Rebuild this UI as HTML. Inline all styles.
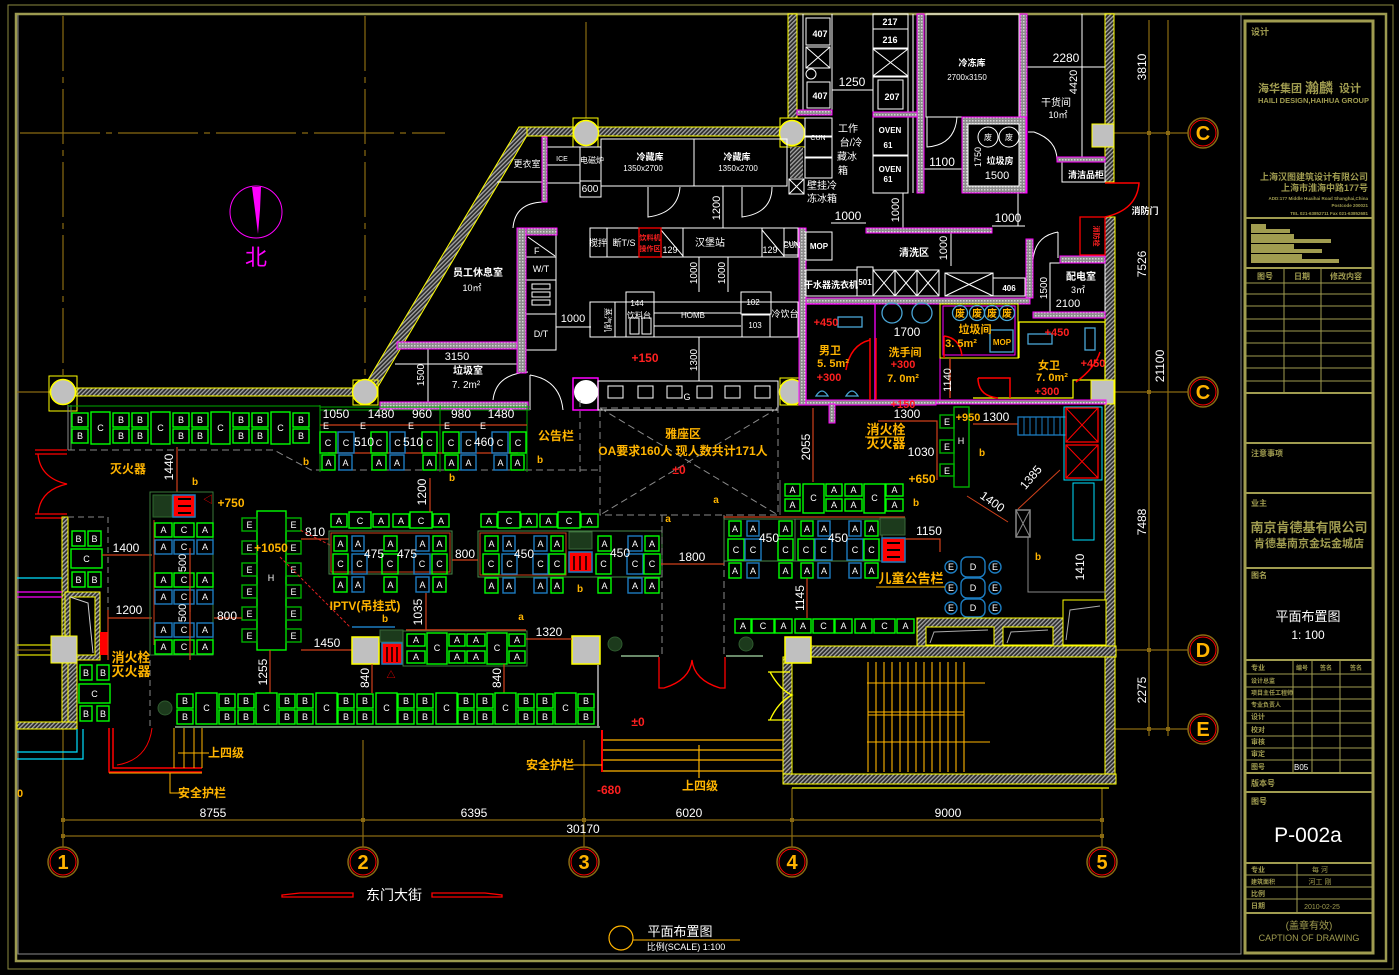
<!DOCTYPE html>
<html><head><meta charset="utf-8"><style>
html,body{margin:0;padding:0;background:#000;}
svg{display:block}
.t{font-family:"Liberation Sans","Noto Sans CJK SC",sans-serif}
.L{fill:#fff;font-size:9px;text-anchor:middle;font-family:"Liberation Sans",sans-serif}
.g{fill:none;stroke:#00ff00;stroke-width:1.4}
.b{fill:none;stroke:#1c7cc0;stroke-width:1.4}
.dg{fill:none;stroke:#00b000;stroke-width:1.2}
.w{fill:none;stroke:#fff;stroke-width:1}
.ol{fill:none;stroke:#8a6a12;stroke-width:1.2}
.rd{fill:none;stroke:#d0401a;stroke-width:1.2}
.wh{fill:#fff;font-family:"Liberation Sans","Noto Sans CJK SC",sans-serif;text-anchor:middle}
.or{fill:#ffb400;font-family:"Liberation Sans","Noto Sans CJK SC",sans-serif;text-anchor:middle;font-weight:bold}
.re{fill:#ff2020;font-family:"Liberation Sans","Noto Sans CJK SC",sans-serif;text-anchor:middle;font-weight:bold}
.tb{fill:#a09c50;font-family:"Liberation Sans","Noto Sans CJK SC",sans-serif}
.yw{fill:url(#h);stroke:#ffff00;stroke-width:1}
.mw{fill:url(#hm);stroke:#ff00ff;stroke-width:1}
</style></head><body>
<svg width="1399" height="975" viewBox="0 0 1399 975" xmlns="http://www.w3.org/2000/svg">
<defs>
<pattern id="h" width="3" height="3" patternUnits="userSpaceOnUse" patternTransform="rotate(45)"><rect width="3" height="3" fill="#2a2a2a"/><rect width="1.3" height="3" fill="#a8a8a8"/></pattern>
<pattern id="hm" width="3" height="3" patternUnits="userSpaceOnUse"><rect width="3" height="3" fill="#8c8c8c"/><rect width="1.5" height="1.5" fill="#d4d4d4"/></pattern>
</defs>
<rect width="1399" height="975" fill="#000"/>

<!-- FRAME -->
<rect x="8" y="5" width="1385" height="964" fill="none" stroke="#8c8a40" stroke-width="1"/>
<rect x="16" y="14" width="1370" height="947" fill="none" stroke="#9c9a50" stroke-width="2.5"/>
<polyline points="18,15 18,954 1241,954 1241,15" fill="none" stroke="#8a8a8a" stroke-width="1"/>

<!-- AXIS LINES -->
<g class="ol">
<line x1="63" y1="16" x2="63" y2="378" stroke-dasharray="55,6,6,6"/>
<line x1="365" y1="16" x2="365" y2="380" stroke-dasharray="55,6,6,6"/>
<line x1="20" y1="133" x2="445" y2="133" stroke-dasharray="80,6,6,6"/>
<line x1="586" y1="22" x2="586" y2="118"/>
<line x1="17" y1="392" x2="77" y2="392"/>
<line x1="63" y1="728" x2="63" y2="847"/>
<line x1="363" y1="740" x2="363" y2="847"/>
<line x1="584" y1="740" x2="584" y2="847"/>
<line x1="792" y1="788" x2="792" y2="847"/>
<line x1="1102" y1="788" x2="1102" y2="847"/>
<line x1="63" y1="820" x2="1102" y2="820"/>
<line x1="63" y1="836" x2="1102" y2="836"/>
<line x1="1149" y1="20" x2="1149" y2="736"/>
<line x1="1168" y1="20" x2="1168" y2="736"/>
<line x1="1113" y1="133" x2="1188" y2="133"/>
<line x1="1114" y1="392" x2="1188" y2="392"/>
<line x1="1110" y1="650" x2="1188" y2="650"/>
<line x1="1108" y1="729" x2="1188" y2="729"/>
</g>
<g fill="#8a6a12">
<rect x="61" y="818" width="4" height="4"/><rect x="361" y="818" width="4" height="4"/><rect x="582" y="818" width="4" height="4"/><rect x="790" y="818" width="4" height="4"/><rect x="1100" y="818" width="4" height="4"/>
<rect x="61" y="834" width="4" height="4"/><rect x="1100" y="834" width="4" height="4"/>
<rect x="1147" y="131" width="4" height="4"/><rect x="1147" y="390" width="4" height="4"/><rect x="1147" y="648" width="4" height="4"/><rect x="1147" y="727" width="4" height="4"/><rect x="1166" y="727" width="4" height="4"/><rect x="1166" y="131" width="4" height="4"/>
</g>
<!-- axis bubbles -->
<g>
<g transform="translate(63,862)"><circle r="15" fill="none" stroke="#8a6a12" stroke-width="1.5"/><circle r="13" fill="none" stroke="#f00"/><text y="7" class="or" font-size="20">1</text></g>
<g transform="translate(363,862)"><circle r="15" fill="none" stroke="#8a6a12" stroke-width="1.5"/><circle r="13" fill="none" stroke="#f00"/><text y="7" class="or" font-size="20">2</text></g>
<g transform="translate(584,862)"><circle r="15" fill="none" stroke="#8a6a12" stroke-width="1.5"/><circle r="13" fill="none" stroke="#f00"/><text y="7" class="or" font-size="20">3</text></g>
<g transform="translate(792,862)"><circle r="15" fill="none" stroke="#8a6a12" stroke-width="1.5"/><circle r="13" fill="none" stroke="#f00"/><text y="7" class="or" font-size="20">4</text></g>
<g transform="translate(1102,862)"><circle r="15" fill="none" stroke="#8a6a12" stroke-width="1.5"/><circle r="13" fill="none" stroke="#f00"/><text y="7" class="or" font-size="20">5</text></g>
<g transform="translate(1203,133)"><circle r="15" fill="none" stroke="#8a6a12" stroke-width="1.5"/><circle r="13" fill="none" stroke="#f00"/><text y="7" class="or" font-size="20">C</text></g>
<g transform="translate(1203,392)"><circle r="15" fill="none" stroke="#8a6a12" stroke-width="1.5"/><circle r="13" fill="none" stroke="#f00"/><text y="7" class="or" font-size="20">C</text></g>
<g transform="translate(1203,650)"><circle r="15" fill="none" stroke="#8a6a12" stroke-width="1.5"/><circle r="13" fill="none" stroke="#f00"/><text y="7" class="or" font-size="20">D</text></g>
<g transform="translate(1203,729)"><circle r="15" fill="none" stroke="#8a6a12" stroke-width="1.5"/><circle r="13" fill="none" stroke="#f00"/><text y="7" class="or" font-size="20">E</text></g>
</g>
<!-- dimension text -->
<g class="wh" font-size="12">
<text x="213" y="817">8755</text><text x="474" y="817">6395</text><text x="689" y="817">6020</text><text x="948" y="817">9000</text><text x="583" y="833">30170</text>
<text transform="translate(1146,67) rotate(-90)">3810</text>
<text transform="translate(1146,264) rotate(-90)">7526</text>
<text transform="translate(1146,522) rotate(-90)">7488</text>
<text transform="translate(1146,690) rotate(-90)">2275</text>
<text transform="translate(1164,366) rotate(-90)">21100</text>
</g>
<text x="20" y="797" class="or" font-size="11" font-weight="normal">0</text>

<!-- NORTH -->
<circle cx="256" cy="212" r="26" fill="none" stroke="#ff00ff" stroke-width="1"/>
<polygon points="252,187 261,187 260,210 258,234 255,210" fill="#ff00ff"/>
<text x="256" y="265" font-size="22" fill="#ff00ff" class="t" text-anchor="middle">北</text>

<!-- MAIN WALLS -->
<rect class="yw" x="75" y="388" width="280" height="8"/>
<polygon class="yw" points="519,127 532,127 376,390 362,390"/>
<rect class="yw" x="527" y="127" width="262" height="9"/>
<rect class="yw" x="788" y="14" width="9" height="104"/>
<rect fill="#ffff00" x="49" y="376" width="28" height="35" fill-opacity="0" stroke="#ffff00"/>
<circle cx="63" cy="392" r="12.5" fill="#c0c0c0" stroke="#ffff00" stroke-width="1.5"/>
<rect x="353" y="380" width="25" height="25" fill="none" stroke="#ffff00"/>
<circle cx="365" cy="392" r="12.5" fill="#c0c0c0" stroke="#ffff00" stroke-width="1.5"/>
<rect x="573" y="118" width="25" height="29" fill="none" stroke="#ffff00"/>
<circle cx="586" cy="133" r="12.5" fill="#c0c0c0" stroke="#ffff00" stroke-width="1.5"/>
<rect x="780" y="118" width="25" height="29" fill="none" stroke="#ffff00"/>
<circle cx="792" cy="133" r="12.5" fill="#c0c0c0" stroke="#ffff00" stroke-width="1.5"/>
<rect x="790" y="147" width="13" height="31" fill="url(#h)"/>
<rect x="573" y="378" width="25" height="32" fill="none" stroke="#ff00ff" stroke-width="1.5"/>
<circle cx="586" cy="392" r="12" fill="#fff"/>
<rect x="780" y="378" width="25" height="27" fill="none" stroke="#ffff00"/>
<circle cx="792" cy="392" r="12.5" fill="#c0c0c0" stroke="#ffff00" stroke-width="1.5"/>
<!-- right wall -->
<rect class="yw" x="1105" y="14" width="9" height="168"/>
<rect class="yw" x="1105" y="217" width="10" height="567"/>
<rect x="1092" y="124" width="22" height="23" fill="#c0c0c0" stroke="#ffff00"/>
<rect x="1091" y="380" width="23" height="24" fill="#c0c0c0" stroke="#ffff00"/>

<!-- CENTER KITCHEN -->
<g class="w">
<rect x="601" y="139" width="186" height="47"/><line x1="694" y1="139" x2="694" y2="186"/>
<rect x="546" y="147" width="34" height="36"/><line x1="546" y1="165" x2="580" y2="165"/>
<rect x="580" y="147" width="21" height="34"/><rect x="580" y="181" width="21" height="16"/>
<line x1="497" y1="182" x2="542" y2="182"/>
<path d="M648,187 L648,217 Q678,213 680,187"/><path d="M742,187 L742,217 Q772,213 772,187"/>
<path d="M513,228 Q515,203 543,202"/>
<line x1="723" y1="186" x2="723" y2="228"/>
<rect x="590" y="228" width="208" height="29"/>
<line x1="607" y1="228" x2="607" y2="257"/><line x1="661" y1="228" x2="661" y2="257"/><line x1="683" y1="228" x2="683" y2="257"/><line x1="762" y1="228" x2="762" y2="257"/><line x1="784" y1="228" x2="784" y2="257"/>
<line x1="661" y1="230" x2="683" y2="256"/><line x1="762" y1="230" x2="784" y2="256"/>
<rect x="526" y="235" width="30" height="22"/><line x1="528" y1="237" x2="555" y2="256"/>
<rect x="526" y="257" width="30" height="23"/><rect x="526" y="280" width="30" height="34"/>
<rect x="532" y="284" width="18" height="5"/><rect x="532" y="292" width="18" height="5"/><rect x="532" y="300" width="18" height="5"/>
<rect x="526" y="314" width="30" height="36"/>
<line x1="556" y1="327" x2="591" y2="327"/>
<line x1="699" y1="257" x2="699" y2="292"/><line x1="728" y1="257" x2="728" y2="292"/>
<rect x="590" y="302" width="208" height="35"/>
<rect x="626" y="292" width="28" height="45"/>
<line x1="615" y1="302" x2="615" y2="337"/><line x1="654" y1="313" x2="741" y2="313"/><line x1="654" y1="326" x2="741" y2="326"/>
<rect x="741" y="292" width="30" height="22"/><rect x="742" y="315" width="28" height="22"/>
<rect x="630" y="318" width="9" height="16"/><rect x="642" y="318" width="9" height="16"/>
<line x1="699" y1="337" x2="699" y2="381"/>
<line x1="395" y1="364" x2="517" y2="364"/><line x1="428" y1="349" x2="428" y2="402"/>
<path d="M493,400 Q496,374 528,372"/><path d="M530,375 L530,410 M530,375 Q560,380 563,410"/>
<rect x="598" y="381" width="180" height="29"/>
<rect x="608" y="386" width="15" height="12"/><rect x="638" y="386" width="15" height="12"/><rect x="667" y="386" width="15" height="12"/><rect x="697" y="386" width="15" height="12"/><rect x="725" y="386" width="15" height="12"/><rect x="755" y="386" width="15" height="12"/>
</g>
<rect x="639" y="228" width="22" height="29" fill="none" stroke="#f00" stroke-width="1.3"/>
<text x="650" y="240" font-size="7" class="re">饮料机</text><text x="650" y="251" font-size="7" class="re">操作区</text>
<rect class="mw" x="542" y="137" width="5" height="65"/>
<rect class="mw" x="517" y="228" width="40" height="7"/>
<rect class="mw" x="517" y="228" width="9" height="145"/>
<rect class="mw" x="397" y="342" width="120" height="7"/>
<rect class="mw" x="380" y="402" width="148" height="7"/>
<rect class="mw" x="799" y="228" width="7" height="177"/>
<g class="wh" font-size="9">
<text x="527" y="167">更衣室</text><text x="562" y="161" font-size="7">ICE</text><text x="592" y="163" font-size="8">电磁炉</text><text x="590" y="192" font-size="10">600</text>
<text x="650" y="160" font-size="9" font-weight="bold">冷藏库</text><text x="643" y="171" font-size="8">1350x2700</text>
<text x="737" y="160" font-size="9" font-weight="bold">冷藏库</text><text x="738" y="171" font-size="8">1350x2700</text>
<text transform="translate(720,208) rotate(-90)" font-size="11">1200</text>
<text x="598" y="246" font-size="9">搅拌</text><text x="624" y="246" font-size="9">断T/S</text><text x="670" y="253" font-size="9">129</text><text x="710" y="246" font-size="10">汉堡站</text><text x="770" y="253" font-size="9">129</text><text x="792" y="248" font-size="8">CUN</text>
<text x="534" y="254" font-size="9" text-anchor="start">F</text><text x="541" y="272" font-size="9">W/T</text><text x="541" y="337" font-size="9">D/T</text>
<text x="573" y="322" font-size="11">1000</text>
<text transform="translate(697,273) rotate(-90)" font-size="10">1000</text><text transform="translate(725,273) rotate(-90)" font-size="10">1000</text>
<text x="637" y="306" font-size="8">144</text><text x="639" y="318" font-size="8">饮料台</text><text x="693" y="318" font-size="8">HOMB</text>
<text x="753" y="305" font-size="8">102</text><text x="755" y="328" font-size="8">103</text><text x="785" y="317" font-size="9">冷饮台</text>
<text transform="translate(605,320) rotate(90)" font-size="8">蒸汽机</text>
<text transform="translate(697,360) rotate(-90)" font-size="10">1300</text>
<text x="478" y="276" font-size="10" font-weight="bold">员工休息室</text><text x="472" y="291" font-size="9">10㎡</text>
<text x="457" y="360" font-size="11">3150</text><text transform="translate(424,375) rotate(-90)" font-size="10">1500</text>
<text x="468" y="374" font-size="10" font-weight="bold">垃圾室</text><text x="466" y="388" font-size="10">7. 2m²</text>
<text x="687" y="400" font-size="9">G</text>
</g>
<text x="645" y="362" font-size="12" class="re">+150</text>

<!-- TOP RIGHT KITCHEN -->
<g class="w">
<line x1="803" y1="14" x2="803" y2="110"/><line x1="832" y1="14" x2="832" y2="110"/>
<rect x="806" y="18" width="24" height="27"/><rect x="806" y="47" width="24" height="21"/><path d="M806,47 L830,68 M830,47 L806,68"/>
<circle cx="811" cy="74" r="5"/><rect x="807" y="82" width="23" height="26"/>
<line x1="832" y1="90" x2="873" y2="90"/>
<rect x="873" y="14" width="35" height="15"/><rect x="873" y="29" width="35" height="19"/><rect x="873" y="49" width="35" height="27"/><path d="M873,49 L908,76 M908,49 L873,76"/>
<rect x="873" y="77" width="35" height="35"/><rect x="878" y="80" width="25" height="29"/>
<rect x="873" y="117" width="35" height="38"/><rect x="873" y="156" width="35" height="37"/>
<line x1="908" y1="14" x2="908" y2="193"/><line x1="913" y1="14" x2="913" y2="193"/>
<rect x="926" y="14" width="93" height="103"/>
<path d="M927,117 L927,147 Q955,145 957,117"/>
<line x1="923" y1="169" x2="962" y2="169"/>
<line x1="1082" y1="14" x2="1082" y2="158"/><line x1="1027" y1="67" x2="1105" y2="67"/>
<path d="M1028,132 L1034,132 Q1057,140 1057,160"/>
<rect x="1062" y="162" width="43" height="20"/>
<rect x="805" y="118" width="27" height="18"/><rect x="805" y="137" width="27" height="20"/><rect x="805" y="158" width="27" height="20"/>
<rect x="789" y="179" width="15" height="15"/><path d="M789,179 L804,194 M804,179 L789,194"/>
<line x1="831" y1="223" x2="866" y2="223"/><line x1="903" y1="193" x2="903" y2="228"/>
<line x1="992" y1="226" x2="1025" y2="226"/><line x1="1018" y1="190" x2="1018" y2="226"/>
<path d="M1058,232 L1058,258 M1058,232 Q1035,236 1033,260"/>
<line x1="951" y1="230" x2="951" y2="266"/>
<rect x="857" y="267" width="16" height="29"/>
<rect x="873" y="270" width="22" height="26"/><path d="M873,270 L895,296 M895,270 L873,296"/>
<rect x="895" y="270" width="22" height="26"/><path d="M895,270 L917,296 M917,270 L895,296"/>
<rect x="917" y="270" width="22" height="26"/><path d="M917,270 L939,296 M939,270 L917,296"/>
<rect x="945" y="273" width="48" height="23"/><path d="M945,273 L993,296 M993,273 L945,296"/>
<rect x="993" y="278" width="32" height="18"/>
<rect x="806" y="270" width="51" height="26"/><rect x="806" y="232" width="26" height="28"/><rect x="784" y="228" width="14" height="27"/>
<rect x="1050" y="263" width="55" height="49"/>
</g>
<rect class="mw" x="797" y="110" width="35" height="5"/>
<rect class="mw" x="873" y="112" width="44" height="5"/>
<rect class="mw" x="917" y="14" width="7" height="179"/>
<rect class="mw" x="1020" y="14" width="7" height="179"/>
<rect class="mw" x="962" y="117" width="64" height="76"/><rect x="968" y="124" width="51" height="62" fill="#000" stroke="#fff"/>
<circle cx="988" cy="137" r="10" fill="none" stroke="#fff"/><circle cx="1009" cy="137" r="10" fill="none" stroke="#fff"/>
<rect class="mw" x="1057" y="157" width="48" height="5"/>
<rect class="mw" x="866" y="228" width="126" height="5"/>
<rect class="mw" x="1026" y="239" width="7" height="59"/>
<rect class="mw" x="806" y="298" width="224" height="6"/>
<rect class="mw" x="1060" y="256" width="45" height="7"/>
<rect class="mw" x="1033" y="312" width="72" height="6"/>
<path d="M1105,183 L1139,183 Q1137,210 1105,217" fill="none" stroke="#f00" stroke-width="1.5"/>
<rect x="1080" y="217" width="25" height="38" fill="none" stroke="#f00" stroke-width="1.3"/>
<text transform="translate(1094,236) rotate(90)" font-size="7" class="re">消防栓</text>
<g class="wh" font-size="9">
<text x="820" y="37" font-size="9" font-weight="bold">407</text><text x="820" y="99" font-size="9" font-weight="bold">407</text>
<text x="852" y="86" font-size="12">1250</text>
<text x="890" y="25" font-size="9" font-weight="bold">217</text><text x="890" y="43" font-size="9" font-weight="bold">216</text><text x="892" y="100" font-size="9" font-weight="bold">207</text>
<text x="890" y="133" font-size="8" font-weight="bold">OVEN</text><text x="888" y="148" font-size="8" font-weight="bold">61</text>
<text x="890" y="172" font-size="8" font-weight="bold">OVEN</text><text x="888" y="182" font-size="8" font-weight="bold">61</text>
<text x="972" y="66" font-size="9" font-weight="bold">冷冻库</text><text x="967" y="80" font-size="8">2700x3150</text>
<text x="942" y="166" font-size="12">1100</text>
<text transform="translate(981,157) rotate(-90)" font-size="9">1750</text>
<text x="988" y="140" font-size="8">废</text><text x="1009" y="140" font-size="8">废</text>
<text x="1000" y="164" font-size="9" font-weight="bold">垃圾房</text><text x="997" y="179" font-size="11">1500</text>
<text x="1066" y="62" font-size="12">2280</text><text transform="translate(1077,82) rotate(-90)" font-size="11">4420</text>
<text x="1056" y="106" font-size="10">干货间</text><text x="1058" y="118" font-size="9">10㎡</text>
<text x="1086" y="178" font-size="9" font-weight="bold">清洁品柜</text>
<text x="1145" y="214" font-size="9" font-weight="bold">消防门</text>
<text x="818" y="140" font-size="7">CUN</text>
<text x="848" y="132" font-size="10">工作</text><text x="851" y="146" font-size="10">台/冷</text><text x="847" y="160" font-size="10">藏冰</text><text x="843" y="174" font-size="10">箱</text>
<text x="822" y="189" font-size="10">壁挂冷</text><text x="822" y="202" font-size="10">冻冰箱</text>
<text x="848" y="220" font-size="12">1000</text><text transform="translate(899,210) rotate(-90)" font-size="11">1000</text>
<text x="1008" y="222" font-size="12">1000</text>
<text x="914" y="256" font-size="10" font-weight="bold">清洗区</text><text transform="translate(947,248) rotate(-90)" font-size="11">1000</text>
<text x="865" y="285" font-size="8" font-weight="bold">501</text><text x="1009" y="291" font-size="8" font-weight="bold">406</text>
<text x="831" y="288" font-size="9" font-weight="bold">干水器洗衣机</text><text x="819" y="249" font-size="8" font-weight="bold">MOP</text><text x="791" y="246" font-size="7">CUN</text>
<text x="1081" y="280" font-size="10" font-weight="bold">配电室</text><text x="1078" y="293" font-size="9">3㎡</text><text x="1068" y="307" font-size="11">2100</text>
<text transform="translate(1047,288) rotate(-90)" font-size="10">1500</text>
</g>

<!-- TOILETS -->
<rect x="806" y="304" width="69" height="98" fill="none" stroke="#ff00ff" stroke-width="1.3"/>
<rect x="875" y="304" width="65" height="98" fill="none" stroke="#ff00ff" stroke-width="1"/>
<rect x="940" y="304" width="78" height="54" fill="none" stroke="#ffff00" stroke-width="1"/>
<rect x="943" y="306" width="72" height="49" fill="none" stroke="#ff00ff" stroke-width="1"/>
<polyline points="1019,358 1019,322 1105,322 1105,380 1073,380 1073,398 973,398" fill="none" stroke="#ffff00" stroke-width="1.2"/>
<line x1="1019" y1="358" x2="973" y2="358" stroke="#ffff00"/>
<rect class="mw" x="806" y="400" width="130" height="5"/>
<rect class="mw" x="936" y="400" width="170" height="4"/>
<g fill="none" stroke="#4aa6d6" stroke-width="1.3">
<rect x="838" y="317" width="24" height="10"/><circle cx="892" cy="313" r="10"/><circle cx="922" cy="313" r="10"/>
<rect x="1028" y="334" width="24" height="10"/><rect x="1085" y="328" width="10" height="22"/>
<path d="M816,396 Q822,386 828,396 Z"/><path d="M846,396 Q852,386 858,396 Z"/>
<rect x="990" y="330" width="23" height="22"/>
<circle cx="960" cy="313" r="7.5"/><circle cx="977" cy="313" r="7.5"/><circle cx="992" cy="313" r="7.5"/><circle cx="1007" cy="313" r="7.5"/>
</g>
<g fill="none" stroke="#f00" stroke-width="1.5">
<line x1="870" y1="338" x2="870" y2="400"/><line x1="876" y1="338" x2="876" y2="400"/>
<path d="M846,370 Q850,345 870,340"/><path d="M944,336 L944,358 M944,336 Q960,338 962,356"/>
<path d="M978,378 L1010,378 L1010,398 M978,378 Q978,396 998,398"/>
<path d="M1076,382 Q1095,368 1100,352"/><line x1="950" y1="358" x2="950" y2="398" stroke="#c03a18"/>
</g>
<g font-size="11">
<text x="826" y="326" class="re" font-weight="normal">+450</text>
<text x="830" y="354" class="or">男卫</text><text x="833" y="367" class="or" font-weight="normal">5. 5m²</text><text x="829" y="381" class="re" font-weight="normal">+300</text>
<text x="905" y="356" class="or">洗手间</text><text x="903" y="368" class="re" font-weight="normal">+300</text><text x="903" y="382" class="or" font-weight="normal">7. 0m²</text>
<text x="907" y="336" class="wh" font-size="12">1700</text>
<text x="960" y="317" class="or" font-size="10">废</text><text x="977" y="317" class="or" font-size="10">废</text><text x="992" y="317" class="or" font-size="10">废</text><text x="1007" y="317" class="or" font-size="10">废</text>
<text x="975" y="333" class="or">垃圾间</text><text x="961" y="347" class="or" font-weight="normal">3. 5m²</text><text x="1002" y="345" class="or" font-size="8">MOP</text>
<text x="1057" y="336" class="re" font-weight="normal">+450</text><text x="1049" y="369" class="or">女卫</text><text x="1052" y="381" class="or" font-weight="normal">7. 0m²</text><text x="1047" y="395" class="re" font-weight="normal">+300</text><text x="1093" y="367" class="re" font-weight="normal">+450</text>
<text x="903" y="408" class="re" font-weight="normal">+150</text><text x="907" y="418" class="wh" font-size="12">1300</text>
<text transform="translate(951,380) rotate(-90)" class="wh" font-size="11">1140</text>
</g>

<!-- DINING: top-left row -->
<line x1="68" y1="405" x2="68" y2="450" stroke="#8a8a8a"/><line x1="71" y1="405" x2="71" y2="450" stroke="#5a8a5a"/>
<line x1="68" y1="406" x2="320" y2="406" stroke="#00a800"/>
<polyline points="68,450 274,450 311,470 600,470" fill="none" stroke="#888" stroke-dasharray="7,4"/>
<g>
<rect class="g" x="72" y="413" width="16" height="14"/><text class="L" x="80" y="423">B</text><rect class="g" x="72" y="429" width="16" height="14"/><text class="L" x="80" y="439">B</text>
<rect class="g" x="91" y="412" width="19" height="32"/><text class="L" x="100.5" y="431">C</text>
<rect class="g" x="113" y="413" width="16" height="14"/><text class="L" x="121" y="423">B</text><rect class="g" x="113" y="429" width="16" height="14"/><text class="L" x="121" y="439">B</text>
<rect class="g" x="132" y="413" width="16" height="14"/><text class="L" x="140" y="423">B</text><rect class="g" x="132" y="429" width="16" height="14"/><text class="L" x="140" y="439">B</text>
<rect class="g" x="151" y="412" width="19" height="32"/><text class="L" x="160.5" y="431">C</text>
<rect class="g" x="173" y="413" width="16" height="14"/><text class="L" x="181" y="423">B</text><rect class="g" x="173" y="429" width="16" height="14"/><text class="L" x="181" y="439">B</text>
<rect class="g" x="192" y="413" width="16" height="14"/><text class="L" x="200" y="423">B</text><rect class="g" x="192" y="429" width="16" height="14"/><text class="L" x="200" y="439">B</text>
<rect class="g" x="211" y="412" width="19" height="32"/><text class="L" x="220.5" y="431">C</text>
<rect class="g" x="233" y="413" width="16" height="14"/><text class="L" x="241" y="423">B</text><rect class="g" x="233" y="429" width="16" height="14"/><text class="L" x="241" y="439">B</text>
<rect class="g" x="252" y="413" width="16" height="14"/><text class="L" x="260" y="423">B</text><rect class="g" x="252" y="429" width="16" height="14"/><text class="L" x="260" y="439">B</text>
<rect class="g" x="271" y="412" width="19" height="32"/><text class="L" x="280.5" y="431">C</text>
<rect class="g" x="293" y="413" width="16" height="14"/><text class="L" x="301" y="423">B</text><rect class="g" x="293" y="429" width="16" height="14"/><text class="L" x="301" y="439">B</text>
</g>

<!-- Block 1 -->
<line x1="320" y1="407" x2="530" y2="407" stroke="#00a800"/><line x1="320" y1="410" x2="530" y2="410" stroke="#00a800"/>
<line x1="320" y1="405" x2="320" y2="472" stroke="#00a800"/><line x1="440" y1="405" x2="440" y2="472" stroke="#00a800"/><line x1="527" y1="405" x2="527" y2="472" stroke="#00a800"/>
<line x1="320" y1="425" x2="527" y2="425" class="rd"/><line x1="328" y1="453" x2="518" y2="453" class="rd"/>
<g class="wh" font-size="12"><text x="336" y="418">1050</text><text x="381" y="418">1480</text><text x="422" y="418">960</text><text x="461" y="418">980</text><text x="501" y="418">1480</text></g>
<g class="L"><text x="326" y="429">E</text><text x="363" y="429">E</text><text x="411" y="429">E</text><text x="447" y="429">E</text><text x="483" y="429">E</text></g>
<g>
<rect class="g" x="320" y="432" width="16" height="21"/><text class="L" x="328" y="446">C</text>
<rect class="b" x="338" y="432" width="16" height="21"/><text class="L" x="346" y="446">C</text>
<rect class="g" x="371" y="432" width="16" height="21"/><text class="L" x="379" y="446">C</text>
<rect class="b" x="390" y="432" width="15" height="21"/><text class="L" x="397.5" y="446">C</text>
<rect class="g" x="422" y="432" width="15" height="21"/><text class="L" x="429.5" y="446">C</text>
<rect class="g" x="443" y="432" width="16" height="21"/><text class="L" x="451" y="446">C</text>
<rect class="b" x="461" y="432" width="15" height="21"/><text class="L" x="468.5" y="446">C</text>
<rect class="b" x="492" y="432" width="16" height="21"/><text class="L" x="500" y="446">C</text>
<rect class="g" x="510" y="432" width="16" height="21"/><text class="L" x="518" y="446">C</text>
<rect class="g" x="322" y="455" width="13" height="15"/><text class="L" x="328.5" y="466">A</text>
<rect class="b" x="339" y="455" width="13" height="15"/><text class="L" x="345.5" y="466">A</text>
<rect class="g" x="372" y="455" width="14" height="15"/><text class="L" x="379" y="466">A</text>
<rect class="b" x="390" y="455" width="14" height="15"/><text class="L" x="397" y="466">A</text>
<rect class="g" x="423" y="455" width="13" height="15"/><text class="L" x="429.5" y="466">A</text>
<rect class="g" x="445" y="455" width="13" height="15"/><text class="L" x="451.5" y="466">A</text>
<rect class="b" x="461" y="455" width="15" height="15"/><text class="L" x="468.5" y="466">A</text>
<rect class="b" x="494" y="455" width="13" height="15"/><text class="L" x="500.5" y="466">A</text>
<rect class="g" x="511" y="455" width="13" height="15"/><text class="L" x="517.5" y="466">A</text>
</g>
<g class="wh" font-size="12"><text x="364" y="446">510</text><text x="413" y="446">510</text><text x="484" y="446">460</text></g>

<!-- Left edge elements -->
<path d="M35,450 L67,450 M35,454 L67,454 M35,514 L67,514 M35,518 L67,518 M38,454 Q40,478 67,484 Q40,490 38,514" fill="none" stroke="#f00" stroke-width="1.3"/>
<rect class="yw" x="62" y="517" width="6" height="205"/>
<rect class="yw" x="65" y="592" width="35" height="68"/><rect x="70" y="597" width="25" height="58" fill="#000" stroke="#ffff00"/>
<polyline points="70,597 88,603 93,653" fill="none" stroke="#ccc"/>
<rect class="yw" x="68" y="660" width="9" height="67"/>
<rect class="yw" x="17" y="722" width="60" height="7"/>
<rect x="51" y="636" width="26" height="27" fill="#c0c0c0" stroke="#ffff00"/>
<rect x="100" y="632" width="8" height="23" fill="#f00"/>
<g stroke-width="1.2">
<line x1="17" y1="578" x2="62" y2="578" stroke="#00e0ff"/><line x1="17" y1="592" x2="62" y2="592" stroke="#ff00ff"/><line x1="17" y1="597" x2="62" y2="597" stroke="#ff00ff"/>
<line x1="17" y1="645" x2="51" y2="645" stroke="#dddd00"/><line x1="17" y1="650" x2="51" y2="650" stroke="#8a6a12"/><line x1="17" y1="655" x2="51" y2="655" stroke="#dddd00"/>
<polyline points="17,752 77,752 77,729" fill="none" stroke="#00e0ff"/><polyline points="17,759 83,759 83,729" fill="none" stroke="#00e0ff"/>
</g>
<polyline points="68,517 108,517 108,620" fill="none" stroke="#888" stroke-dasharray="6,4"/>
<line x1="150" y1="660" x2="150" y2="727" stroke="#888" stroke-dasharray="6,4"/>
<rect class="g" x="72" y="531" width="13" height="15"/><text class="L" x="78.5" y="542">B</text><rect class="g" x="88" y="531" width="13" height="15"/><text class="L" x="94.5" y="542">B</text>
<rect class="g" x="71" y="549" width="31" height="19"/><text class="L" x="86.5" y="562">C</text>
<rect class="g" x="72" y="572" width="13" height="15"/><text class="L" x="78.5" y="583">B</text><rect class="g" x="88" y="572" width="13" height="15"/><text class="L" x="94.5" y="583">B</text>
<rect class="g" x="80" y="665" width="12" height="15"/><text class="L" x="86" y="676">B</text><rect class="g" x="97" y="665" width="12" height="15"/><text class="L" x="103" y="676">B</text>
<rect class="g" x="79" y="684" width="31" height="19"/><text class="L" x="94.5" y="697">C</text>
<rect class="g" x="80" y="706" width="12" height="15"/><text class="L" x="86" y="717">B</text><rect class="g" x="97" y="706" width="12" height="15"/><text class="L" x="103" y="717">B</text>
<line x1="102" y1="555" x2="152" y2="555" class="rd"/><line x1="108" y1="618" x2="152" y2="618" class="rd"/>
<line x1="108" y1="610" x2="108" y2="660" class="rd"/>
<g class="wh" font-size="12"><text x="126" y="552">1400</text><text x="129" y="614">1200</text><text transform="translate(173,467) rotate(-90)">1440</text></g>
<line x1="177" y1="447" x2="177" y2="492" class="rd"/>
<text x="128" y="473" class="or" font-size="12" font-weight="normal">灭火器</text>
<text x="131" y="662" class="or" font-size="13" font-weight="normal">消火栓</text><text x="131" y="676" class="or" font-size="13" font-weight="normal">灭火器</text>

<!-- Left A/C column -->
<rect x="150" y="492" width="63" height="163" fill="none" stroke="#3a7a3a"/>
<line x1="154" y1="520" x2="154" y2="645" stroke="#d0401a"/>
<rect x="153" y="495" width="19" height="22" fill="#1c3a1c" stroke="#2e6a2e"/>
<rect x="173" y="495" width="22" height="22" fill="#f00" stroke="#1c7cc0" stroke-width="1.5"/>
<path d="M178,499 L191,499 M178,506 L191,506 M178,513 L191,513" stroke="#000" stroke-width="2"/>
<g>
<rect class="g" x="155" y="523" width="17" height="14"/><text class="L" x="163.5" y="533">A</text><rect class="g" x="174" y="523" width="20" height="14"/><text class="L" x="184" y="533">C</text><rect class="g" x="197" y="523" width="16" height="14"/><text class="L" x="205" y="533">A</text>
<rect class="b" x="155" y="540" width="17" height="14"/><text class="L" x="163.5" y="550">A</text><rect class="b" x="174" y="540" width="20" height="14"/><text class="L" x="184" y="550">C</text><rect class="b" x="197" y="540" width="16" height="14"/><text class="L" x="205" y="550">A</text>
<rect class="g" x="155" y="573" width="17" height="14"/><text class="L" x="163.5" y="583">A</text><rect class="g" x="174" y="573" width="20" height="14"/><text class="L" x="184" y="583">C</text><rect class="g" x="197" y="573" width="16" height="14"/><text class="L" x="205" y="583">A</text>
<rect class="b" x="155" y="590" width="17" height="14"/><text class="L" x="163.5" y="600">A</text><rect class="b" x="174" y="590" width="20" height="14"/><text class="L" x="184" y="600">C</text><rect class="b" x="197" y="590" width="16" height="14"/><text class="L" x="205" y="600">A</text>
<rect class="b" x="155" y="623" width="17" height="14"/><text class="L" x="163.5" y="633">A</text><rect class="b" x="174" y="623" width="20" height="14"/><text class="L" x="184" y="633">C</text><rect class="b" x="197" y="623" width="16" height="14"/><text class="L" x="205" y="633">A</text>
<rect class="g" x="155" y="640" width="17" height="14"/><text class="L" x="163.5" y="650">A</text><rect class="g" x="174" y="640" width="20" height="14"/><text class="L" x="184" y="650">C</text><rect class="g" x="197" y="640" width="16" height="14"/><text class="L" x="205" y="650">A</text>
</g>
<line x1="190" y1="548" x2="190" y2="612" class="rd"/><line x1="190" y1="598" x2="190" y2="660" class="rd"/>
<g class="wh" font-size="11"><text transform="translate(186,563) rotate(-90)">500</text><text transform="translate(186,613) rotate(-90)">500</text></g>
<text x="231" y="507" class="or" font-size="12">+750</text>
<text x="203" y="503" fill="#f00" font-size="10" class="t">◁</text>

<!-- E H E column -->
<rect class="g" x="257" y="511" width="29" height="139"/>
<g stroke="#00b000" fill="none" stroke-width="1.4">
<rect x="242" y="518" width="15" height="13"/><rect x="242" y="541" width="15" height="13"/><rect x="242" y="563" width="15" height="13"/><rect x="242" y="585" width="15" height="13"/><rect x="242" y="607" width="15" height="13"/><rect x="242" y="629" width="15" height="13"/>
<rect x="286" y="518" width="15" height="13"/><rect x="286" y="541" width="15" height="13"/><rect x="286" y="563" width="15" height="13"/><rect x="286" y="585" width="15" height="13"/><rect x="286" y="607" width="15" height="13"/><rect x="286" y="629" width="15" height="13"/>
</g>
<g class="L"><text x="249.5" y="528">E</text><text x="249.5" y="551">E</text><text x="249.5" y="573">E</text><text x="249.5" y="595">E</text><text x="249.5" y="617">E</text><text x="249.5" y="639">E</text>
<text x="293.5" y="528">E</text><text x="293.5" y="551">E</text><text x="293.5" y="573">E</text><text x="293.5" y="595">E</text><text x="293.5" y="617">E</text><text x="293.5" y="639">E</text><text x="271" y="581">H</text></g>
<text x="271" y="552" class="or" font-size="12">+1050</text>
<line x1="301" y1="539" x2="329" y2="539" class="rd"/><line x1="301" y1="650" x2="352" y2="650" class="rd"/><line x1="214" y1="618" x2="242" y2="618" class="rd"/><line x1="270" y1="650" x2="270" y2="693" class="rd"/>
<g class="wh" font-size="12"><text x="315" y="536">810</text><text x="227" y="620">800</text><text x="327" y="647">1450</text><text transform="translate(267,672) rotate(-90)">1255</text></g>
<path d="M280,557 L350,627 M330,545 L300,530" stroke="#e02020" stroke-dasharray="3,2" fill="none"/>

<!-- Block 2 -->
<g>
<rect class="g" x="331" y="514" width="16" height="13"/><text class="L" x="339" y="524">A</text>
<rect class="g" x="349" y="512" width="22" height="16"/><text class="L" x="360" y="524">C</text>
<rect class="g" x="373" y="514" width="16" height="13"/><text class="L" x="381" y="524">A</text>
<rect class="g" x="393" y="514" width="16" height="13"/><text class="L" x="401" y="524">A</text>
<rect class="g" x="410" y="512" width="22" height="16"/><text class="L" x="421" y="524">C</text>
<rect class="g" x="433" y="514" width="16" height="13"/><text class="L" x="441" y="524">A</text>
<rect class="g" x="481" y="514" width="16" height="13"/><text class="L" x="489" y="524">A</text>
<rect class="g" x="498" y="512" width="22" height="16"/><text class="L" x="509" y="524">C</text>
<rect class="g" x="521" y="514" width="16" height="13"/><text class="L" x="529" y="524">A</text>
<rect class="g" x="540" y="514" width="17" height="13"/><text class="L" x="548.5" y="524">A</text>
<rect class="g" x="558" y="512" width="22" height="16"/><text class="L" x="569" y="524">C</text>
<rect class="g" x="581" y="514" width="17" height="13"/><text class="L" x="589.5" y="524">A</text>
</g>
<rect x="329" y="531" width="123" height="43" fill="none" stroke="#4a8a4a"/><rect x="331" y="533" width="119" height="39" fill="none" stroke="#d0401a"/>
<rect x="478" y="531" width="184" height="46" fill="none" stroke="#4a8a4a"/><rect x="480" y="533" width="86" height="42" fill="none" stroke="#d0401a"/>
<g>
<rect class="g" x="334" y="536" width="13" height="15"/><text class="L" x="340.5" y="547">A</text>
<rect class="b" x="352" y="536" width="12" height="15"/><text class="L" x="358" y="547">A</text>
<rect class="g" x="384" y="536" width="13" height="15"/><text class="L" x="390.5" y="547">A</text>
<rect class="b" x="416" y="536" width="13" height="15"/><text class="L" x="422.5" y="547">A</text>
<rect class="g" x="433" y="536" width="13" height="15"/><text class="L" x="439.5" y="547">A</text>
<rect class="g" x="333" y="554" width="15" height="20"/><text class="L" x="340.5" y="567">C</text>
<rect class="b" x="352" y="554" width="15" height="20"/><text class="L" x="359.5" y="567">C</text>
<rect class="g" x="382" y="554" width="16" height="20"/><text class="L" x="390" y="567">C</text>
<rect class="b" x="414" y="554" width="16" height="20"/><text class="L" x="422" y="567">C</text>
<rect class="g" x="432" y="554" width="15" height="20"/><text class="L" x="439.5" y="567">C</text>
<rect class="g" x="334" y="577" width="13" height="15"/><text class="L" x="340.5" y="588">A</text>
<rect class="b" x="352" y="577" width="12" height="15"/><text class="L" x="358" y="588">A</text>
<rect class="g" x="384" y="577" width="13" height="15"/><text class="L" x="390.5" y="588">A</text>
<rect class="b" x="416" y="577" width="13" height="15"/><text class="L" x="422.5" y="588">A</text>
<rect class="g" x="433" y="577" width="13" height="15"/><text class="L" x="439.5" y="588">A</text>
</g>
<g>
<rect class="g" x="485" y="536" width="13" height="15"/><text class="L" x="491.5" y="547">A</text>
<rect class="b" x="503" y="536" width="12" height="15"/><text class="L" x="509" y="547">A</text>
<rect class="b" x="534" y="536" width="13" height="15"/><text class="L" x="540.5" y="547">A</text>
<rect class="g" x="551" y="536" width="12" height="15"/><text class="L" x="557" y="547">A</text>
<rect class="g" x="598" y="536" width="13" height="15"/><text class="L" x="604.5" y="547">A</text>
<rect class="b" x="628" y="536" width="14" height="15"/><text class="L" x="635" y="547">A</text>
<rect class="g" x="645" y="536" width="14" height="15"/><text class="L" x="652" y="547">A</text>
<rect class="g" x="483" y="554" width="16" height="20"/><text class="L" x="491" y="567">C</text>
<rect class="b" x="502" y="554" width="15" height="20"/><text class="L" x="509.5" y="567">C</text>
<rect class="b" x="533" y="554" width="15" height="20"/><text class="L" x="540.5" y="567">C</text>
<rect class="g" x="549" y="554" width="16" height="20"/><text class="L" x="557" y="567">C</text>
<rect class="g" x="596" y="554" width="15" height="20"/><text class="L" x="603.5" y="567">C</text>
<rect class="b" x="627" y="554" width="16" height="20"/><text class="L" x="635" y="567">C</text>
<rect class="g" x="644" y="554" width="16" height="20"/><text class="L" x="652" y="567">C</text>
<rect class="g" x="485" y="578" width="13" height="15"/><text class="L" x="491.5" y="589">A</text>
<rect class="b" x="503" y="578" width="12" height="15"/><text class="L" x="509" y="589">A</text>
<rect class="b" x="534" y="578" width="13" height="15"/><text class="L" x="540.5" y="589">A</text>
<rect class="g" x="551" y="578" width="12" height="15"/><text class="L" x="557" y="589">A</text>
<rect class="g" x="598" y="578" width="13" height="15"/><text class="L" x="604.5" y="589">A</text>
<rect class="b" x="628" y="578" width="14" height="15"/><text class="L" x="635" y="589">A</text>
<rect class="g" x="645" y="578" width="14" height="15"/><text class="L" x="652" y="589">A</text>
</g>
<rect x="569" y="532" width="23" height="17" fill="#1c3a1c" stroke="#3a6a3a"/>
<rect x="569" y="552" width="23" height="20" fill="#f00" stroke="#1c7cc0" stroke-width="1.5"/>
<path d="M574,556 L574,570 M580,556 L580,570 M586,556 L586,570" stroke="#000" stroke-width="1.5"/>
<line x1="452" y1="560" x2="478" y2="560" class="rd"/><line x1="430" y1="478" x2="430" y2="512" class="rd"/>
<g class="wh" font-size="12"><text x="374" y="558">475</text><text x="407" y="558">475</text><text x="465" y="558">800</text><text x="524" y="558">450</text><text x="620" y="557">450</text><text transform="translate(426,492) rotate(-90)">1200</text></g>
<text x="365" y="610" class="or" font-size="12">IPTV(吊挂式)</text>

<!-- middle bottom block -->
<line x1="352" y1="627" x2="395" y2="627" stroke="#1c7cc0" stroke-width="1.5"/>
<rect x="352" y="637" width="27" height="27" fill="#c0c0c0" stroke="#ffff00" stroke-width="1.5"/>
<rect x="380" y="630" width="23" height="12" fill="#1c3a1c" stroke="#3a6a3a"/>
<rect x="382" y="643" width="20" height="21" fill="#f00" stroke="#1c7cc0" stroke-width="1.5"/>
<path d="M387,647 L387,662 M392,647 L392,662 M397,647 L397,662" stroke="#000" stroke-width="1.5"/>
<line x1="406" y1="630" x2="526" y2="630" stroke="#d0401a" stroke-width="1.5"/>
<rect x="403" y="631" width="124" height="35" fill="none" stroke="#3a7a3a"/>
<g>
<rect class="g" x="407" y="634" width="18" height="12"/><text class="L" x="416" y="643">A</text><rect class="g" x="407" y="651" width="18" height="12"/><text class="L" x="416" y="660">A</text>
<rect class="g" x="427" y="633" width="20" height="31"/><text class="L" x="437" y="651">C</text>
<rect class="g" x="449" y="634" width="16" height="12"/><text class="L" x="457" y="643">A</text><rect class="g" x="449" y="651" width="16" height="12"/><text class="L" x="457" y="660">A</text>
<rect class="g" x="467" y="634" width="18" height="12"/><text class="L" x="476" y="643">A</text><rect class="g" x="467" y="651" width="18" height="12"/><text class="L" x="476" y="660">A</text>
<rect class="g" x="487" y="633" width="20" height="31"/><text class="L" x="497" y="651">C</text>
<rect class="g" x="509" y="634" width="16" height="12"/><text class="L" x="517" y="643">A</text><rect class="g" x="509" y="651" width="16" height="12"/><text class="L" x="517" y="660">A</text>
</g>
<rect x="572" y="636" width="28" height="28" fill="#c0c0c0" stroke="#ffff00" stroke-width="1.5"/>
<line x1="526" y1="639" x2="572" y2="639" class="rd"/><line x1="426" y1="593" x2="426" y2="630" class="rd"/>
<line x1="372" y1="664" x2="372" y2="693" class="rd"/><line x1="504" y1="664" x2="504" y2="693" class="rd"/>
<g class="wh" font-size="12"><text x="549" y="636">1320</text><text transform="translate(422,612) rotate(-90)">1035</text><text transform="translate(369,678) rotate(-90)">840</text><text transform="translate(501,678) rotate(-90)">840</text></g>
<text x="391" y="678" font-size="9" fill="#f00" class="t" text-anchor="middle">△</text>
<circle cx="165" cy="708" r="7" fill="#1c3a1c" stroke="#2e5a2e"/>

<!-- bottom row -->
<line x1="175" y1="727" x2="600" y2="727" stroke="#6a8a6a" stroke-width="2"/>
<line x1="598" y1="665" x2="598" y2="728" stroke="#8a8a8a" stroke-width="2"/>
<g>
<rect class="g" x="177" y="694" width="16" height="14"/><text class="L" x="185" y="704">B</text><rect class="g" x="177" y="710" width="16" height="14"/><text class="L" x="185" y="720">B</text>
<rect class="g" x="196" y="693" width="21" height="31"/><text class="L" x="206.5" y="711">C</text>
<rect class="g" x="219" y="694" width="16" height="14"/><text class="L" x="227" y="704">B</text><rect class="g" x="219" y="710" width="16" height="14"/><text class="L" x="227" y="720">B</text>
<rect class="g" x="238" y="694" width="16" height="14"/><text class="L" x="246" y="704">B</text><rect class="g" x="238" y="710" width="16" height="14"/><text class="L" x="246" y="720">B</text>
<rect class="g" x="256" y="693" width="21" height="31"/><text class="L" x="266.5" y="711">C</text>
<rect class="g" x="279" y="694" width="16" height="14"/><text class="L" x="287" y="704">B</text><rect class="g" x="279" y="710" width="16" height="14"/><text class="L" x="287" y="720">B</text>
<rect class="g" x="297" y="694" width="16" height="14"/><text class="L" x="305" y="704">B</text><rect class="g" x="297" y="710" width="16" height="14"/><text class="L" x="305" y="720">B</text>
<rect class="g" x="316" y="693" width="21" height="31"/><text class="L" x="326.5" y="711">C</text>
<rect class="g" x="338" y="694" width="16" height="14"/><text class="L" x="346" y="704">B</text><rect class="g" x="338" y="710" width="16" height="14"/><text class="L" x="346" y="720">B</text>
<rect class="g" x="357" y="694" width="16" height="14"/><text class="L" x="365" y="704">B</text><rect class="g" x="357" y="710" width="16" height="14"/><text class="L" x="365" y="720">B</text>
<rect class="g" x="376" y="693" width="21" height="31"/><text class="L" x="386.5" y="711">C</text>
<rect class="g" x="398" y="694" width="16" height="14"/><text class="L" x="406" y="704">B</text><rect class="g" x="398" y="710" width="16" height="14"/><text class="L" x="406" y="720">B</text>
<rect class="g" x="417" y="694" width="16" height="14"/><text class="L" x="425" y="704">B</text><rect class="g" x="417" y="710" width="16" height="14"/><text class="L" x="425" y="720">B</text>
<rect class="g" x="436" y="693" width="21" height="31"/><text class="L" x="446.5" y="711">C</text>
<rect class="g" x="458" y="694" width="16" height="14"/><text class="L" x="466" y="704">B</text><rect class="g" x="458" y="710" width="16" height="14"/><text class="L" x="466" y="720">B</text>
<rect class="g" x="477" y="694" width="16" height="14"/><text class="L" x="485" y="704">B</text><rect class="g" x="477" y="710" width="16" height="14"/><text class="L" x="485" y="720">B</text>
<rect class="g" x="495" y="693" width="21" height="31"/><text class="L" x="505.5" y="711">C</text>
<rect class="g" x="518" y="694" width="16" height="14"/><text class="L" x="526" y="704">B</text><rect class="g" x="518" y="710" width="16" height="14"/><text class="L" x="526" y="720">B</text>
<rect class="g" x="537" y="694" width="16" height="14"/><text class="L" x="545" y="704">B</text><rect class="g" x="537" y="710" width="16" height="14"/><text class="L" x="545" y="720">B</text>
<rect class="g" x="555" y="693" width="21" height="31"/><text class="L" x="565.5" y="711">C</text>
<rect class="g" x="578" y="694" width="16" height="14"/><text class="L" x="586" y="704">B</text><rect class="g" x="578" y="710" width="16" height="14"/><text class="L" x="586" y="720">B</text>
</g>

<!-- bottom-left stairs/rail -->
<path d="M109,728 L109,772 L202,772 M113,728 L113,768 L202,768" fill="none" stroke="#f00" stroke-width="1.5"/>
<line x1="109" y1="773" x2="202" y2="773" stroke="#ffb400"/>
<path d="M152,728 Q148,760 117,765" fill="none" stroke="#f00"/>
<g stroke="#ffb400"><line x1="174" y1="728" x2="174" y2="768"/><line x1="184" y1="728" x2="184" y2="768"/><line x1="194" y1="728" x2="194" y2="768"/><line x1="202" y1="728" x2="202" y2="768"/><line x1="178" y1="753" x2="209" y2="753"/><polyline points="170,773 170,793 182,793" fill="none"/></g>
<text x="226" y="757" class="or" font-size="12">上四级</text>
<text x="202" y="797" class="or" font-size="12">安全护栏</text>

<!-- Dashed regions center -->
<g stroke="#8a8a8a" fill="none" stroke-dasharray="7,4">
<rect x="600" y="408" width="178" height="107"/>
<line x1="600" y1="408" x2="778" y2="515"/><line x1="778" y1="408" x2="600" y2="515"/>
<line x1="662" y1="515" x2="662" y2="655"/><line x1="724" y1="515" x2="724" y2="655"/>
<line x1="580" y1="400" x2="580" y2="472"/>
</g>
<g stroke="#6a8a6a" stroke-width="2"><line x1="621" y1="656" x2="659" y2="656"/><line x1="726" y1="656" x2="763" y2="656"/></g>
<text x="683" y="438" class="or" font-size="12">雅座区</text>
<text x="683" y="455" class="or" font-size="12">OA要求160人 现人数共计171人</text>
<text x="679" y="474" class="re" font-size="12">±0</text>
<text x="556" y="440" class="or" font-size="12">公告栏</text>
<line x1="661" y1="564" x2="724" y2="564" class="rd"/>
<text x="692" y="561" class="wh" font-size="12">1800</text>
<path d="M659,657 L659,688 L664,688 Q690,680 692,660 Q694,680 720,688 L725,688 L725,657" fill="none" stroke="#f00" stroke-width="1.3"/>
<circle cx="615" cy="644" r="7" fill="#1c3a1c" stroke="#2e5a2e"/><circle cx="746" cy="644" r="7" fill="#1c3a1c" stroke="#2e5a2e"/>

<!-- Block 3 right -->
<line x1="813" y1="408" x2="813" y2="482" class="rd"/>
<text transform="translate(810,447) rotate(-90)" class="wh" font-size="12">2055</text>
<rect class="mw" x="829" y="404" width="6" height="19"/>
<g>
<rect class="g" x="785" y="484" width="15" height="12"/><text class="L" x="792.5" y="493">A</text><rect class="g" x="785" y="499" width="15" height="12"/><text class="L" x="792.5" y="508">A</text>
<rect class="g" x="803" y="484" width="21" height="29"/><text class="L" x="813.5" y="501">C</text>
<rect class="g" x="826" y="484" width="16" height="12"/><text class="L" x="834" y="493">A</text><rect class="g" x="826" y="499" width="16" height="12"/><text class="L" x="834" y="508">A</text>
<rect class="g" x="845" y="484" width="17" height="12"/><text class="L" x="853.5" y="493">A</text><rect class="g" x="845" y="499" width="17" height="12"/><text class="L" x="853.5" y="508">A</text>
<rect class="g" x="864" y="484" width="21" height="29"/><text class="L" x="874.5" y="501">C</text>
<rect class="g" x="886" y="484" width="17" height="12"/><text class="L" x="894.5" y="493">A</text><rect class="g" x="886" y="499" width="17" height="12"/><text class="L" x="894.5" y="508">A</text>
</g>
<line x1="780" y1="480" x2="780" y2="515" stroke="#6a6a6a"/>
<line x1="724" y1="517" x2="905" y2="517" stroke="#d0401a" stroke-width="1.3"/>
<rect x="724" y="519" width="71" height="42" fill="none" stroke="#4a8a4a"/><rect x="795" y="519" width="87" height="42" fill="none" stroke="#4a8a4a"/>
<g>
<rect class="g" x="729" y="521" width="12" height="15"/><text class="L" x="735" y="532">A</text>
<rect class="b" x="747" y="521" width="12" height="15"/><text class="L" x="753" y="532">A</text>
<rect class="g" x="779" y="521" width="13" height="15"/><text class="L" x="785.5" y="532">A</text>
<rect class="g" x="801" y="521" width="12" height="15"/><text class="L" x="807" y="532">A</text>
<rect class="b" x="818" y="521" width="12" height="15"/><text class="L" x="824" y="532">A</text>
<rect class="b" x="849" y="521" width="12" height="15"/><text class="L" x="855" y="532">A</text>
<rect class="g" x="865" y="521" width="13" height="15"/><text class="L" x="871.5" y="532">A</text>
<rect class="g" x="728" y="539" width="16" height="21"/><text class="L" x="736" y="553">C</text>
<rect class="b" x="745" y="539" width="16" height="21"/><text class="L" x="753" y="553">C</text>
<rect class="g" x="778" y="539" width="15" height="21"/><text class="L" x="785.5" y="553">C</text>
<rect class="g" x="798" y="539" width="16" height="21"/><text class="L" x="806" y="553">C</text>
<rect class="b" x="815" y="539" width="17" height="21"/><text class="L" x="823.5" y="553">C</text>
<rect class="b" x="847" y="539" width="16" height="21"/><text class="L" x="855" y="553">C</text>
<rect class="g" x="864" y="539" width="15" height="21"/><text class="L" x="871.5" y="553">C</text>
<rect class="g" x="729" y="563" width="12" height="15"/><text class="L" x="735" y="574">A</text>
<rect class="b" x="747" y="563" width="12" height="15"/><text class="L" x="753" y="574">A</text>
<rect class="g" x="779" y="563" width="13" height="15"/><text class="L" x="785.5" y="574">A</text>
<rect class="g" x="801" y="563" width="12" height="15"/><text class="L" x="807" y="574">A</text>
<rect class="b" x="818" y="563" width="12" height="15"/><text class="L" x="824" y="574">A</text>
<rect class="b" x="849" y="563" width="12" height="15"/><text class="L" x="855" y="574">A</text>
<rect class="g" x="865" y="563" width="13" height="15"/><text class="L" x="871.5" y="574">A</text>
</g>
<rect x="880" y="518" width="25" height="17" fill="#1c3a1c" stroke="#3a6a3a"/>
<rect x="882" y="538" width="23" height="24" fill="#f00" stroke="#1c7cc0" stroke-width="1.5"/>
<path d="M887,543 L900,543 M887,550 L900,550 M887,557 L900,557" stroke="#000" stroke-width="2"/>
<g class="wh" font-size="12"><text x="769" y="542">450</text><text x="838" y="542">450</text><text x="929" y="535">1150</text><text transform="translate(804,598) rotate(-90)">1145</text><text transform="translate(1084,567) rotate(-90)">1410</text></g>
<polyline points="905,539 940,539 940,552" class="rd"/>
<line x1="807" y1="578" x2="807" y2="618" class="rd"/>
<g>
<rect class="g" x="735" y="619" width="16" height="14"/><text class="L" x="743" y="629">A</text>
<rect class="g" x="752" y="619" width="22" height="14"/><text class="L" x="763" y="629">C</text>
<rect class="g" x="775" y="619" width="17" height="14"/><text class="L" x="783.5" y="629">A</text>
<rect class="g" x="795" y="619" width="16" height="14"/><text class="L" x="803" y="629">A</text>
<rect class="g" x="813" y="619" width="21" height="14"/><text class="L" x="823.5" y="629">C</text>
<rect class="g" x="835" y="619" width="17" height="14"/><text class="L" x="843.5" y="629">A</text>
<rect class="g" x="855" y="619" width="17" height="14"/><text class="L" x="863.5" y="629">A</text>
<rect class="g" x="874" y="619" width="21" height="14"/><text class="L" x="884.5" y="629">C</text>
<rect class="g" x="897" y="619" width="17" height="14"/><text class="L" x="905.5" y="629">A</text>
</g>
<!-- D E -->
<g fill="none" stroke="#1c7cc0" stroke-width="1.4">
<rect x="961" y="557" width="24" height="20" rx="6"/><rect x="961" y="578" width="24" height="20" rx="6"/><rect x="961" y="599" width="24" height="18" rx="6"/>
<circle cx="951" cy="567" r="6"/><circle cx="951" cy="588" r="6"/><circle cx="951" cy="608" r="6"/><circle cx="995" cy="567" r="6"/><circle cx="995" cy="588" r="6"/><circle cx="995" cy="608" r="6"/>
</g>
<g class="L"><text x="973" y="570">D</text><text x="973" y="591">D</text><text x="973" y="611">D</text><text x="951" y="570">E</text><text x="951" y="591">E</text><text x="951" y="611">E</text><text x="995" y="570">E</text><text x="995" y="591">E</text><text x="995" y="611">E</text></g>
<text x="911" y="583" class="or" font-size="13" font-weight="normal">儿童公告栏</text>
<line x1="876" y1="587" x2="945" y2="587" stroke="#ffb400"/>

<!-- right upper dining area -->
<rect class="g" x="954" y="407" width="15" height="80" style="stroke:#00b000"/>
<g stroke="#00b000" fill="none" stroke-width="1.4"><rect x="940" y="415" width="14" height="13"/><rect x="940" y="440" width="14" height="13"/><rect x="940" y="464" width="14" height="12"/></g>
<g class="L"><text x="947" y="425">E</text><text x="947" y="450">E</text><text x="947" y="474">E</text><text x="961" y="444">H</text></g>
<text x="968" y="421" class="or" font-size="11">+950</text><text x="996" y="421" class="wh" font-size="12">1300</text>
<line x1="973" y1="424" x2="1018" y2="424" class="rd"/>
<rect x="1018" y="417" width="48" height="18" fill="none" stroke="#1c7cc0" stroke-width="1.3"/>
<path d="M1024,417 V435 M1030,417 V435 M1036,417 V435 M1042,417 V435 M1048,417 V435 M1054,417 V435 M1060,417 V435" stroke="#1c7cc0"/>
<rect x="1064" y="407" width="38" height="73" fill="none" stroke="#00e0ff"/>
<rect x="1066" y="408" width="32" height="34" fill="none" stroke="#f00" stroke-width="1.3"/><path d="M1066,408 L1098,442 M1098,408 L1066,442" stroke="#f00"/>
<rect x="1066" y="445" width="32" height="33" fill="none" stroke="#f00" stroke-width="1.3"/><path d="M1066,445 L1098,478 M1098,445 L1066,478" stroke="#f00"/>
<rect x="1073" y="483" width="21" height="57" fill="none" stroke="#00e0ff"/>
<rect x="1016" y="510" width="14" height="27" fill="none" stroke="#888" stroke-width="1.5"/><path d="M1016,510 L1030,537 M1030,510 L1016,537" stroke="#888"/>
<polyline points="1028,537 1028,592 1106,592" fill="none" stroke="#888"/>
<path d="M967,496 L1008,522 M1018,509 L1060,470" stroke="#d0401a" fill="none"/>
<g class="wh" font-size="12"><text transform="translate(990,505) rotate(35)">1400</text><text transform="translate(1034,480) rotate(-50)">1385</text><text x="921" y="456">1030</text></g>
<text x="922" y="483" class="or" font-size="12">+650</text>
<text x="886" y="434" class="or" font-size="13" font-weight="normal">消火栓</text><text x="886" y="448" class="or" font-size="13" font-weight="normal">灭火器</text>
<line x1="865" y1="437" x2="905" y2="437" stroke="#ffb400"/>
<polyline points="878,421 937,421 937,480" class="rd"/>

<!-- bottom right structure -->
<rect class="yw" x="811" y="646" width="305" height="11"/>
<rect x="917" y="618" width="189" height="28" fill="url(#h)" stroke="#ffff00"/>
<rect x="926" y="627" width="68" height="18" fill="#000" stroke="#ffff00"/><rect x="1003" y="627" width="50" height="18" fill="#000" stroke="#ffff00"/><rect x="1063" y="600" width="43" height="45" fill="#000" stroke="#ffff00"/>
<path d="M930,643 L934,632 L988,630 M1007,643 L1011,632 L1048,630 M1066,640 L1070,610 L1100,606" stroke="#aaa" fill="none"/>
<rect class="yw" x="783" y="657" width="9" height="127"/>
<rect class="yw" x="783" y="774" width="333" height="10"/>
<rect x="785" y="637" width="26" height="26" fill="#c0c0c0" stroke="#ffff00" stroke-width="1.5"/>
<g stroke="#ffb400" stroke-width="1.1">
<line x1="868" y1="662" x2="868" y2="772"/><line x1="876" y1="662" x2="876" y2="772"/><line x1="884" y1="662" x2="884" y2="772"/><line x1="892" y1="662" x2="892" y2="772"/><line x1="900" y1="662" x2="900" y2="772"/><line x1="908" y1="662" x2="908" y2="772"/><line x1="916" y1="662" x2="916" y2="772"/><line x1="924" y1="662" x2="924" y2="772"/><line x1="932" y1="662" x2="932" y2="772"/><line x1="940" y1="662" x2="940" y2="772"/><line x1="948" y1="662" x2="948" y2="772"/><line x1="956" y1="662" x2="956" y2="772"/><line x1="964" y1="662" x2="964" y2="772"/>
<line x1="867" y1="683" x2="985" y2="683"/><line x1="868" y1="712" x2="964" y2="712"/><line x1="868" y1="715" x2="964" y2="715"/><line x1="867" y1="742" x2="990" y2="742"/>
</g>
<line x1="792" y1="788" x2="1109" y2="788" stroke="#ffff00" stroke-width="1.3"/>
<path d="M768,672 L790,672 M790,720 L768,720 M770,672 Q780,690 792,695 Q778,702 770,720" fill="none" stroke="#ffff00" stroke-width="1.3"/>
<g stroke="#ffb400" stroke-width="1.2">
<line x1="602" y1="740" x2="783" y2="740"/><line x1="602" y1="750" x2="783" y2="750"/><line x1="602" y1="760" x2="783" y2="760"/><line x1="602" y1="771" x2="783" y2="771"/>
<line x1="699" y1="745" x2="699" y2="778"/>
</g>
<line x1="602" y1="730" x2="602" y2="772" stroke="#f00" stroke-width="2"/>
<text x="638" y="726" class="re" font-size="12">±0</text>
<text x="700" y="790" class="or" font-size="12">上四级</text>
<text x="609" y="794" class="re" font-size="12">-680</text>
<text x="550" y="769" class="or" font-size="12">安全护栏</text>
<line x1="572" y1="765" x2="602" y2="765" stroke="#ffb400"/>

<!-- small b/a markers -->
<g class="or" font-size="10" font-weight="bold">
<text x="306" y="465">b</text><text x="452" y="481">b</text><text x="540" y="463">b</text><text x="195" y="485">b</text><text x="580" y="592">b</text><text x="982" y="456">b</text><text x="1038" y="560">b</text><text x="916" y="506">b</text><text x="385" y="622">b</text>
<text x="521" y="620">a</text><text x="668" y="522">a</text><text x="716" y="503">a</text>
</g>

<!-- street + title -->
<path d="M282,895 L300,893 L353,893 L353,897 L282,897 Z" fill="none" stroke="#f00" stroke-width="1.3"/>
<path d="M432,893 L485,893 L502,895 L502,897 L432,897 Z" fill="none" stroke="#f00" stroke-width="1.3"/>
<text x="394" y="900" class="wh" font-size="14">东门大街</text>
<circle cx="621" cy="938" r="12" fill="none" stroke="#ffb400" stroke-width="1.2"/>
<line x1="633" y1="940" x2="740" y2="940" stroke="#ffb400"/>
<text x="680" y="936" class="wh" font-size="13">平面布置图</text>
<text x="686" y="950" class="wh" font-size="9">比例(SCALE) 1:100</text>

<!-- TITLE BLOCK -->
<rect x="1245" y="21" width="128" height="932" fill="none" stroke="#a09c50" stroke-width="3"/>
<g stroke="#a09c50" stroke-width="2">
<line x1="1245" y1="218" x2="1373" y2="218"/><line x1="1245" y1="268" x2="1373" y2="268"/><line x1="1245" y1="393" x2="1373" y2="393"/><line x1="1245" y1="443" x2="1373" y2="443"/><line x1="1245" y1="493" x2="1373" y2="493"/><line x1="1245" y1="568" x2="1373" y2="568"/><line x1="1245" y1="660" x2="1373" y2="660"/><line x1="1245" y1="773" x2="1373" y2="773"/><line x1="1245" y1="792" x2="1373" y2="792"/><line x1="1245" y1="863" x2="1373" y2="863"/><line x1="1245" y1="913" x2="1373" y2="913"/>
</g>
<g stroke="#a09c50" stroke-width="1">
<line x1="1245" y1="283" x2="1373" y2="283"/><line x1="1245" y1="294" x2="1373" y2="294"/><line x1="1245" y1="306" x2="1373" y2="306"/><line x1="1245" y1="319" x2="1373" y2="319"/><line x1="1245" y1="331" x2="1373" y2="331"/><line x1="1245" y1="343" x2="1373" y2="343"/><line x1="1245" y1="356" x2="1373" y2="356"/><line x1="1245" y1="368" x2="1373" y2="368"/><line x1="1245" y1="381" x2="1373" y2="381"/>
<line x1="1284" y1="268" x2="1284" y2="393"/><line x1="1321" y1="268" x2="1321" y2="393"/>
<line x1="1245" y1="674" x2="1373" y2="674"/><line x1="1245" y1="687" x2="1373" y2="687"/><line x1="1245" y1="699" x2="1373" y2="699"/><line x1="1245" y1="711" x2="1373" y2="711"/><line x1="1245" y1="723" x2="1373" y2="723"/><line x1="1245" y1="736" x2="1373" y2="736"/><line x1="1245" y1="748" x2="1373" y2="748"/><line x1="1245" y1="760" x2="1373" y2="760"/>
<line x1="1293" y1="660" x2="1293" y2="773"/><line x1="1312" y1="660" x2="1312" y2="773"/><line x1="1340" y1="660" x2="1340" y2="773"/>
<line x1="1245" y1="875" x2="1373" y2="875"/><line x1="1245" y1="887" x2="1373" y2="887"/><line x1="1245" y1="899" x2="1373" y2="899"/><line x1="1297" y1="863" x2="1297" y2="913"/>
</g>
<g fill="#a09c50">
<rect x="1251" y="224" width="15" height="5"/><rect x="1251" y="229" width="39" height="4"/>
<rect x="1251" y="234" width="43" height="5"/><rect x="1251" y="239" width="80" height="4"/>
<rect x="1251" y="244" width="43" height="5"/><rect x="1251" y="249" width="71" height="4"/>
<rect x="1251" y="254" width="51" height="5"/><rect x="1251" y="259" width="88" height="4"/>
</g>
<g class="tb">
<text x="1251" y="35" font-size="9" font-weight="bold">设计</text>
<text x="1258" y="92" font-size="11" font-weight="bold">海华集团</text><text x="1305" y="93" font-size="14" font-weight="bold">瀚麟</text><text x="1339" y="92" font-size="11" font-weight="bold">设计</text>
<text x="1258" y="103" font-size="7.5" font-weight="bold">HAILI DESIGN,HAIHUA GROUP</text>
<text x="1368" y="180" font-size="9" font-weight="bold" text-anchor="end">上海汉图建筑设计有限公司</text>
<text x="1368" y="191" font-size="9" font-weight="bold" text-anchor="end">上海市淮海中路177号</text>
<text x="1368" y="200" font-size="4.5" font-weight="bold" text-anchor="end">ADD:177 Middle Huaihai Road Shanghai,China</text>
<text x="1368" y="207" font-size="4.5" font-weight="bold" text-anchor="end">Postcode 200021</text>
<text x="1368" y="215" font-size="4.5" font-weight="bold" text-anchor="end">TEL 021-63852711 Fax 021-63852681</text>
<text x="1265" y="279" font-size="8" font-weight="bold" text-anchor="middle">图号</text><text x="1302" y="279" font-size="8" font-weight="bold" text-anchor="middle">日期</text><text x="1346" y="279" font-size="8" font-weight="bold" text-anchor="middle">修改内容</text>
<text x="1251" y="456" font-size="8" font-weight="bold">注意事项</text>
<text x="1251" y="506" font-size="8" font-weight="bold">业主</text>
<text x="1309" y="532" font-size="13" font-weight="bold" text-anchor="middle">南京肯德基有限公司</text>
<text x="1309" y="547" font-size="11" font-weight="bold" text-anchor="middle">肯德基南京金坛金城店</text>
<text x="1251" y="578" font-size="8" font-weight="bold">图名</text>
<text x="1251" y="670" font-size="7" font-weight="bold">专业</text><text x="1302" y="670" font-size="6" font-weight="bold" text-anchor="middle">编号</text><text x="1326" y="670" font-size="6" font-weight="bold" text-anchor="middle">签名</text><text x="1356" y="670" font-size="6" font-weight="bold" text-anchor="middle">签名</text>
<text x="1251" y="683" font-size="6" font-weight="bold">设计总监</text>
<text x="1251" y="695" font-size="6" font-weight="bold">项目主任工程师</text>
<text x="1251" y="707" font-size="6" font-weight="bold">专业负责人</text>
<text x="1251" y="719" font-size="7" font-weight="bold">设计</text>
<text x="1251" y="732" font-size="7" font-weight="bold">校对</text>
<text x="1251" y="744" font-size="7" font-weight="bold">审核</text>
<text x="1251" y="756" font-size="7" font-weight="bold">审定</text>
<text x="1251" y="769" font-size="7" font-weight="bold">图号</text>
<text x="1251" y="786" font-size="8" font-weight="bold">版本号</text>
<text x="1251" y="804" font-size="8" font-weight="bold">图号</text>
<text x="1251" y="872" font-size="7" font-weight="bold">专业</text><text x="1320" y="872" font-size="7" text-anchor="middle">每 河</text>
<text x="1251" y="884" font-size="6" font-weight="bold">建筑面积</text><text x="1320" y="884" font-size="7" text-anchor="middle">河工 刚</text>
<text x="1251" y="896" font-size="7" font-weight="bold">比例</text>
<text x="1251" y="908" font-size="7" font-weight="bold">日期</text><text x="1322" y="909" font-size="7" text-anchor="middle">2010-02-25</text>
<text x="1309" y="929" font-size="10" text-anchor="middle">(盖章有效)</text>
<text x="1309" y="941" font-size="9" text-anchor="middle">CAPTION OF DRAWING</text>
</g>
<text x="1308" y="621" class="wh" font-size="13">平面布置图</text>
<text x="1308" y="639" class="wh" font-size="12">1:  100</text>
<text x="1294" y="770" fill="#fff" font-size="8" class="t">B05</text>
<text x="1308" y="842" class="wh" font-size="21">P-002a</text>
</svg>
</body></html>
